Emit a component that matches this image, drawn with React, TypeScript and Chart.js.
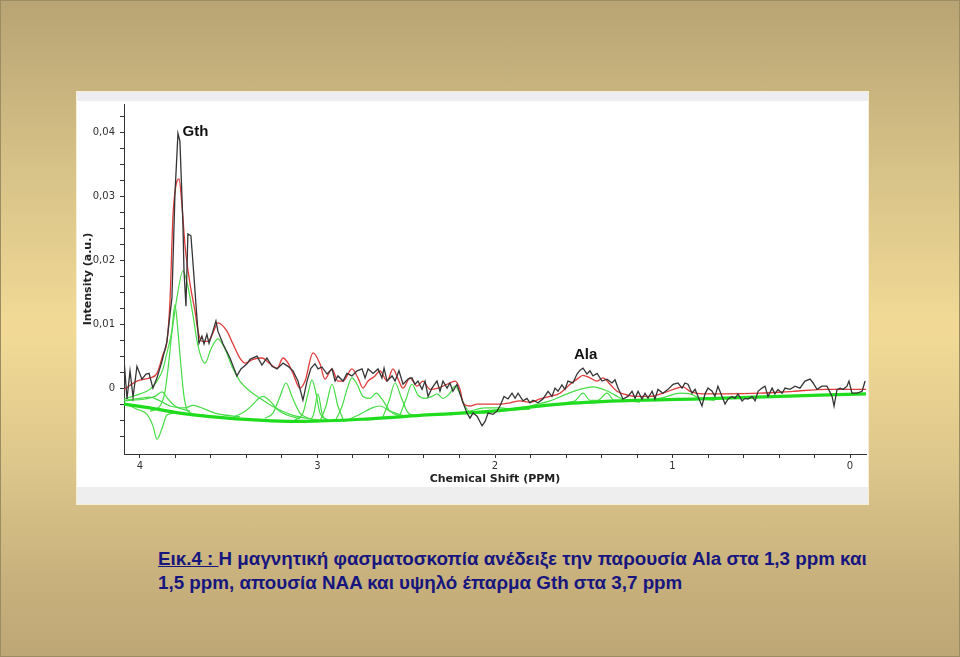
import React, { useEffect, useRef } from "react";
import { Chart, registerables } from "chart.js";

Chart.register(...registerables);

// ---------- DATA (ppm, intensity a.u.) ----------
const BLACK_PPM = [4.090,4.073,4.056,4.039,4.017,3.989,3.966,3.949,3.927,3.904,3.876,3.848,3.820,3.803,3.786,3.775,3.758,3.752,3.741,3.730,3.713,3.701,3.679,3.668,3.651,3.639,3.623,3.611,3.589,3.572,3.561,3.532,3.493,3.454,3.431,3.397,3.380,3.341,3.313,3.285,3.256,3.228,3.194,3.166,3.138,3.110,3.082,3.059,3.037,3.014,2.997,2.975,2.946,2.918,2.901,2.885,2.856,2.834,2.806,2.777,2.749,2.732,2.715,2.687,2.659,2.637,2.625,2.608,2.580,2.563,2.541,2.518,2.490,2.468,2.451,2.434,2.411,2.394,2.377,2.355,2.327,2.310,2.293,2.270,2.254,2.237,2.214,2.197,2.180,2.158,2.141,2.124,2.101,2.073,2.056,2.039,2.011,1.989,1.972,1.949,1.927,1.904,1.887,1.870,1.842,1.820,1.803,1.786,1.758,1.730,1.701,1.679,1.662,1.645,1.623,1.606,1.589,1.561,1.538,1.521,1.504,1.482,1.465,1.448,1.425,1.397,1.369,1.341,1.324,1.307,1.279,1.251,1.228,1.211,1.194,1.172,1.155,1.138,1.115,1.099,1.082,1.054,1.025,0.997,0.969,0.946,0.930,0.913,0.890,0.873,0.856,0.834,0.817,0.800,0.777,0.761,0.744,0.721,0.704,0.687,0.665,0.648,0.631,0.608,0.592,0.575,0.552,0.535,0.518,0.496,0.479,0.462,0.439,0.423,0.406,0.383,0.366,0.338,0.310,0.282,0.254,0.225,0.208,0.186,0.158,0.130,0.101,0.090,0.073,0.056,0.039,0.017,0.006,-0.011,-0.039,-0.068,-0.085];
const BLACK_INT = [0.0045,-0.0017,0.0027,-0.0014,0.0034,0.0014,0.0022,0.0023,0.0000,0.0016,0.0042,0.0073,0.0141,0.0303,0.0398,0.0386,0.0256,0.0183,0.0128,0.0241,0.0238,0.0194,0.0109,0.0070,0.0081,0.0069,0.0084,0.0070,0.0089,0.0105,0.0089,0.0069,0.0047,0.0019,0.0030,0.0038,0.0045,0.0050,0.0036,0.0047,0.0034,0.0030,0.0039,0.0034,0.0027,0.0011,-0.0019,0.0011,0.0031,0.0038,0.0030,0.0033,0.0022,0.0030,0.0011,0.0019,0.0011,0.0023,0.0019,0.0027,0.0030,0.0016,0.0030,0.0023,0.0030,0.0016,0.0031,0.0011,0.0019,0.0011,0.0027,0.0006,0.0014,0.0016,0.0006,0.0011,-0.0002,0.0011,-0.0013,0.0000,0.0011,-0.0005,0.0011,0.0000,0.0008,-0.0005,0.0006,-0.0009,-0.0023,-0.0039,-0.0047,-0.0039,-0.0044,-0.0059,-0.0052,-0.0039,-0.0041,-0.0036,-0.0028,-0.0013,-0.0017,-0.0008,-0.0016,-0.0008,-0.0020,-0.0016,-0.0023,-0.0019,-0.0023,-0.0017,-0.0005,-0.0013,0.0000,-0.0005,0.0005,-0.0002,0.0011,0.0008,0.0022,0.0028,0.0031,0.0022,0.0027,0.0019,0.0023,0.0011,0.0014,0.0008,0.0013,0.0000,-0.0017,-0.0013,-0.0005,-0.0016,-0.0005,-0.0017,-0.0008,-0.0016,-0.0005,-0.0017,-0.0002,-0.0008,-0.0002,0.0006,0.0008,0.0000,0.0008,0.0006,-0.0008,-0.0002,-0.0013,-0.0028,-0.0009,0.0000,-0.0005,-0.0013,0.0003,-0.0013,-0.0025,-0.0017,-0.0013,-0.0016,-0.0009,-0.0020,-0.0016,-0.0017,-0.0013,-0.0020,-0.0005,0.0000,0.0003,-0.0013,0.0000,-0.0009,-0.0002,-0.0008,0.0000,-0.0002,0.0003,0.0000,0.0011,0.0014,0.0008,-0.0002,0.0003,0.0003,-0.0013,-0.0028,-0.0002,0.0000,-0.0002,0.0003,0.0011,-0.0008,-0.0008,-0.0005,0.0011];

const FIT_PPM = [4.090,4.017,3.944,3.904,3.870,3.848,3.831,3.814,3.792,3.780,3.763,3.746,3.718,3.690,3.673,3.651,3.617,3.589,3.561,3.510,3.476,3.437,3.408,3.363,3.313,3.268,3.228,3.194,3.166,3.138,3.099,3.070,3.025,2.986,2.958,2.918,2.885,2.856,2.806,2.772,2.744,2.715,2.676,2.648,2.608,2.575,2.546,2.518,2.479,2.439,2.406,2.366,2.321,2.270,2.225,2.197,2.180,2.141,2.101,2.045,1.972,1.915,1.859,1.803,1.746,1.690,1.634,1.577,1.538,1.504,1.465,1.425,1.392,1.352,1.313,1.279,1.200,1.127,1.054,0.975,0.941,0.901,0.828,0.693,0.507,0.321,0.130,-0.090];
const FIT_INT = [-0.0002,0.0011,0.0016,0.0023,0.0053,0.0073,0.0136,0.0269,0.0323,0.0327,0.0284,0.0222,0.0163,0.0120,0.0089,0.0073,0.0073,0.0086,0.0102,0.0089,0.0069,0.0047,0.0039,0.0045,0.0047,0.0038,0.0031,0.0047,0.0039,0.0023,0.0000,0.0011,0.0055,0.0038,0.0014,0.0030,0.0011,0.0011,0.0030,0.0016,0.0000,0.0011,0.0019,0.0027,0.0011,0.0030,0.0014,0.0000,0.0016,0.0003,0.0011,-0.0002,0.0000,0.0006,0.0011,-0.0002,-0.0023,-0.0028,-0.0025,-0.0025,-0.0025,-0.0023,-0.0020,-0.0022,-0.0017,-0.0013,-0.0008,0.0006,0.0014,0.0020,0.0016,0.0011,0.0016,0.0006,-0.0005,-0.0009,-0.0013,-0.0013,-0.0008,0.0000,0.0002,-0.0005,-0.0009,-0.0009,-0.0008,-0.0005,-0.0002,-0.0002];

const BASE_PPM = [4.090,3.944,3.775,3.454,3.082,2.704,2.383,2.011,1.634,1.296,0.845,0.394,-0.090];
const BASE_INT = [-0.0025,-0.0031,-0.0039,-0.0048,-0.0052,-0.0048,-0.0042,-0.0036,-0.0025,-0.0020,-0.0017,-0.0013,-0.0009];

const G1_PPM = [4.090,4.000,3.944,3.904,3.870,3.848,3.820,3.792,3.758,3.730,3.701,3.673,3.634,3.600,3.561,3.521,3.482,3.437,3.380,3.324,3.256,3.155,3.042,2.873];
const G1_INT = [-0.0017,-0.0009,-0.0002,0.0011,0.0030,0.0055,0.0089,0.0141,0.0183,0.0159,0.0113,0.0066,0.0039,0.0061,0.0077,0.0061,0.0034,0.0011,-0.0005,-0.0016,-0.0028,-0.0041,-0.0048,-0.0052];
const G2_PPM = [3.944,3.887,3.859,3.837,3.820,3.803,3.786,3.769,3.752,3.730,3.662,3.493];
const G2_INT = [-0.0036,-0.0028,-0.0005,0.0042,0.0089,0.0130,0.0089,0.0034,-0.0013,-0.0036,-0.0042,-0.0048];
const G3_PPM = [4.090,4.017,3.961,3.927,3.904,3.876,3.848,3.803,3.718];
const G3_INT = [-0.0023,-0.0033,-0.0041,-0.0059,-0.0080,-0.0063,-0.0042,-0.0039,-0.0041];
const G4_PPM = [4.090,3.972,3.915,3.876,3.842,3.803,3.718];
const G4_INT = [-0.0020,-0.0017,-0.0013,-0.0006,-0.0017,-0.0028,-0.0036];
const G5_PPM = [4.090,4.000,3.944,3.887,3.831,3.746,3.701,3.662,3.577,3.437];
const G5_INT = [-0.0019,-0.0016,-0.0014,-0.0020,-0.0028,-0.0031,-0.0027,-0.0030,-0.0039,-0.0045];
const G6_PPM = [3.493,3.408,3.369,3.335,3.307,3.268,3.228,3.172,3.099];
const G6_INT = [-0.0048,-0.0036,-0.0027,-0.0017,-0.0013,-0.0020,-0.0033,-0.0042,-0.0048];
const G7_PPM = [3.296,3.251,3.211,3.177,3.144,3.099,3.042];
const G7_INT = [-0.0047,-0.0039,-0.0013,0.0008,-0.0013,-0.0039,-0.0048];
const G8_PPM = [3.127,3.082,3.054,3.031,3.008,2.986,2.941];
const G8_INT = [-0.0050,-0.0039,-0.0009,0.0013,-0.0009,-0.0039,-0.0050];
const G9_PPM = [3.042,3.020,2.997,2.975,2.952];
const G9_INT = [-0.0052,-0.0039,-0.0009,-0.0039,-0.0052];
const G10_PPM = [2.986,2.952,2.918,2.885,2.851];
const G10_INT = [-0.0052,-0.0028,0.0006,-0.0028,-0.0052];
const G11_PPM = [2.901,2.861,2.834,2.806,2.777,2.744,2.704,2.670,2.637,2.592,2.535];
const G11_INT = [-0.0052,-0.0028,-0.0002,0.0016,0.0006,-0.0013,-0.0016,-0.0008,-0.0017,-0.0036,-0.0044];
const G12_PPM = [2.845,2.761,2.693,2.648,2.592,2.507];
const G12_INT = [-0.0052,-0.0041,-0.0031,-0.0028,-0.0036,-0.0044];
const G13_PPM = [2.631,2.597,2.563,2.530,2.496,2.462];
const G13_INT = [-0.0045,-0.0020,0.0008,-0.0013,-0.0036,-0.0044];
const G14_PPM = [2.535,2.501,2.468,2.434,2.394,2.355,2.327,2.293,2.254,2.225,2.197,2.169,2.130,2.028];
const G14_INT = [-0.0042,-0.0017,0.0006,-0.0011,-0.0016,-0.0013,-0.0009,-0.0016,-0.0008,0.0003,-0.0009,-0.0028,-0.0039,-0.0039];
const G15_PPM = [1.803,1.690,1.594,1.521,1.448,1.380,1.324,1.268,1.183];
const G15_INT = [-0.0028,-0.0020,-0.0009,-0.0002,0.0002,-0.0003,-0.0011,-0.0019,-0.0022];
const G16_PPM = [1.606,1.549,1.504,1.465,1.420,1.369,1.330,1.285];
const G16_INT = [-0.0023,-0.0020,-0.0008,-0.0019,-0.0019,-0.0008,-0.0019,-0.0020];
const G17_PPM = [1.127,1.042,0.958,0.901,0.845,0.761];
const G17_INT = [-0.0019,-0.0014,-0.0008,-0.0009,-0.0016,-0.0019];
const G18_PPM = [2.254,2.141,2.056,1.972,1.887,1.803];
const G18_INT = [-0.0042,-0.0036,-0.0031,-0.0031,-0.0034,-0.0033];

const X_TICKS = [4.0,3.8,3.6,3.4,3.2,3.0,2.8,2.6,2.4,2.2,2.0,1.8,1.6,1.4,1.2,1.0,0.8,0.6,0.4,0.2,0.0];
const X_LABELS = ["4","","","","","3","","","","","2","","","","","1","","","","","0"];
const Y_TICKS = [-0.0075,-0.005,-0.0025,0,0.0025,0.005,0.0075,0.01,0.0125,0.015,0.0175,0.02,0.0225,0.025,0.0275,0.03,0.0325,0.035,0.0375,0.04,0.0425];
const Y_LABELS = ["","","","0","","","","0,01","","","","0,02","","","","0,03","","","","0,04",""];

const ANNOTATIONS = [
  { text: "Gth", ppm: 3.76, value: 0.0400 },
  { text: "Ala", ppm: 1.555, value: 0.0052 },
];

const COMPONENTS: [number[], number[]][] = [
  [G1_PPM, G1_INT], [G2_PPM, G2_INT], [G3_PPM, G3_INT], [G4_PPM, G4_INT],
  [G5_PPM, G5_INT], [G6_PPM, G6_INT], [G7_PPM, G7_INT], [G8_PPM, G8_INT],
  [G9_PPM, G9_INT], [G10_PPM, G10_INT], [G11_PPM, G11_INT], [G12_PPM, G12_INT],
  [G13_PPM, G13_INT], [G14_PPM, G14_INT], [G15_PPM, G15_INT], [G16_PPM, G16_INT],
  [G17_PPM, G17_INT], [G18_PPM, G18_INT],
];

const pts = (xs: number[], ys: number[]) => xs.map((x, i) => ({ x, y: ys[i] }));

const annotationPlugin = {
  id: "peakLabels",
  afterDatasetsDraw(chart: any) {
    const { ctx, scales } = chart;
    ctx.save();
    ctx.font = "bold 15px 'Liberation Sans', Arial, sans-serif";
    ctx.fillStyle = "#111";
    ctx.textAlign = "left";
    ctx.textBaseline = "middle";
    ANNOTATIONS.forEach((a) => {
      ctx.fillText(a.text, scales.x.getPixelForValue(a.ppm), scales.y.getPixelForValue(a.value));
    });
    ctx.restore();
  },
};

function Spectrum() {
  const ref = useRef<HTMLCanvasElement | null>(null);
  useEffect(() => {
    if (!ref.current) return;
    const green = "#46dc46";
    const datasets: any[] = [
      { data: pts(BLACK_PPM, BLACK_INT), borderColor: "#353535", borderWidth: 1.3, tension: 0 },
      { data: pts(FIT_PPM, FIT_INT), borderColor: "#e03a3a", borderWidth: 1.3, cubicInterpolationMode: "monotone" },
      { data: pts(BASE_PPM, BASE_INT), borderColor: "#1fdc1f", borderWidth: 3.2, cubicInterpolationMode: "monotone" },
      ...COMPONENTS.map(([xs, ys]) => ({
        data: pts(xs, ys), borderColor: green, borderWidth: 1.2, cubicInterpolationMode: "monotone",
      })),
    ];
    const tickFont = { family: "'DejaVu Sans', sans-serif", size: 10 };
    const chart = new Chart(ref.current, {
      type: "line",
      data: { datasets },
      plugins: [annotationPlugin],
      options: {
        animation: false,
        responsive: false,
        maintainAspectRatio: false,
        layout: { padding: { top: 3, right: 2, left: 0, bottom: 0 } },
        elements: { point: { radius: 0 }, line: { fill: false } },
        plugins: { legend: { display: false }, tooltip: { enabled: false } },
        scales: {
          x: {
            type: "linear",
            reverse: true,
            min: -0.09,
            max: 4.09,
            afterBuildTicks: (s: any) => { s.ticks = X_TICKS.map((v) => ({ value: v })); },
            afterFit: (s: any) => { s.height = 34; s.paddingLeft = 0; s.paddingRight = 0; },
            ticks: {
              autoSkip: false,
              maxRotation: 0,
              padding: 2,
              color: "#333",
              font: tickFont,
              callback: (_v: any, i: number) => X_LABELS[i],
            },
            grid: { display: true, drawOnChartArea: false, drawTicks: true, tickLength: 4, color: "#333" },
            border: { display: true, color: "#333", width: 1 },
            title: {
              display: true,
              text: "Chemical Shift (PPM)",
              color: "#222",
              font: { family: "'DejaVu Sans', sans-serif", size: 11, weight: "bold" },
              padding: { top: 0, bottom: 2 },
            },
          },
          y: {
            type: "linear",
            min: -0.0103,
            max: 0.0444,
            afterBuildTicks: (s: any) => { s.ticks = Y_TICKS.map((v) => ({ value: v })); },
            afterFit: (s: any) => { s.width = 47; s.paddingTop = 0; s.paddingBottom = 0; },
            ticks: {
              autoSkip: false,
              padding: 5,
              color: "#333",
              font: tickFont,
              callback: (_v: any, i: number) => Y_LABELS[i],
            },
            grid: { display: true, drawOnChartArea: false, drawTicks: true, tickLength: 4, color: "#333" },
            border: { display: true, color: "#333", width: 1 },
            title: {
              display: true,
              text: "Intensity (a.u.)",
              color: "#222",
              font: { family: "'DejaVu Sans', sans-serif", size: 11, weight: "bold" },
              padding: { top: 5, bottom: 0 },
            },
          },
        },
      } as any,
    });
    return () => chart.destroy();
  }, []);
  return <canvas ref={ref} width={791} height={387} style={{ position: "absolute", left: 0, top: 9, width: 791, height: 387 }} />;
}

export default function App() {
  return (
    <div
      style={{
        position: "absolute",
        left: 0,
        top: 0,
        width: 960,
        height: 657,
        boxSizing: "border-box",
        border: "1px solid #9c8c62",
        background: "linear-gradient(to bottom, #b8a474 0%, #d6c187 25%, #f2da96 50%, #dcc58a 72%, #c8b17c 88%, #bea776 100%)",
        overflow: "hidden",
        fontFamily: "'Liberation Sans', Arial, sans-serif",
      }}
    >
      <div
        style={{
          position: "absolute",
          left: 75,
          top: 90,
          width: 793,
          height: 414,
          boxSizing: "border-box",
          border: "1px solid #f6eed6",
          background: "#ffffff",
        }}
      >
        <div style={{ position: "absolute", left: 0, top: 0, width: 791, height: 9, background: "#ececf1" }} />
        <div style={{ position: "absolute", left: 0, top: 395, width: 791, height: 17, background: "#eeeeee" }} />
        <Spectrum />
      </div>
      <div
        style={{
          position: "absolute",
          left: 157,
          top: 546,
          width: 760,
          fontSize: 18.8,
          lineHeight: "24px",
          fontWeight: "bold",
          color: "#16167e",
          whiteSpace: "nowrap",
        }}
      >
        <span style={{ textDecoration: "underline" }}>Εικ.4 : </span>Η μαγνητική φασματοσκοπία ανέδειξε την παρουσία Ala στα 1,3 ppm και
        <br />
        1,5 ppm, απουσία NAA και υψηλό έπαρμα Gth στα 3,7 ppm
      </div>
    </div>
  );
}
